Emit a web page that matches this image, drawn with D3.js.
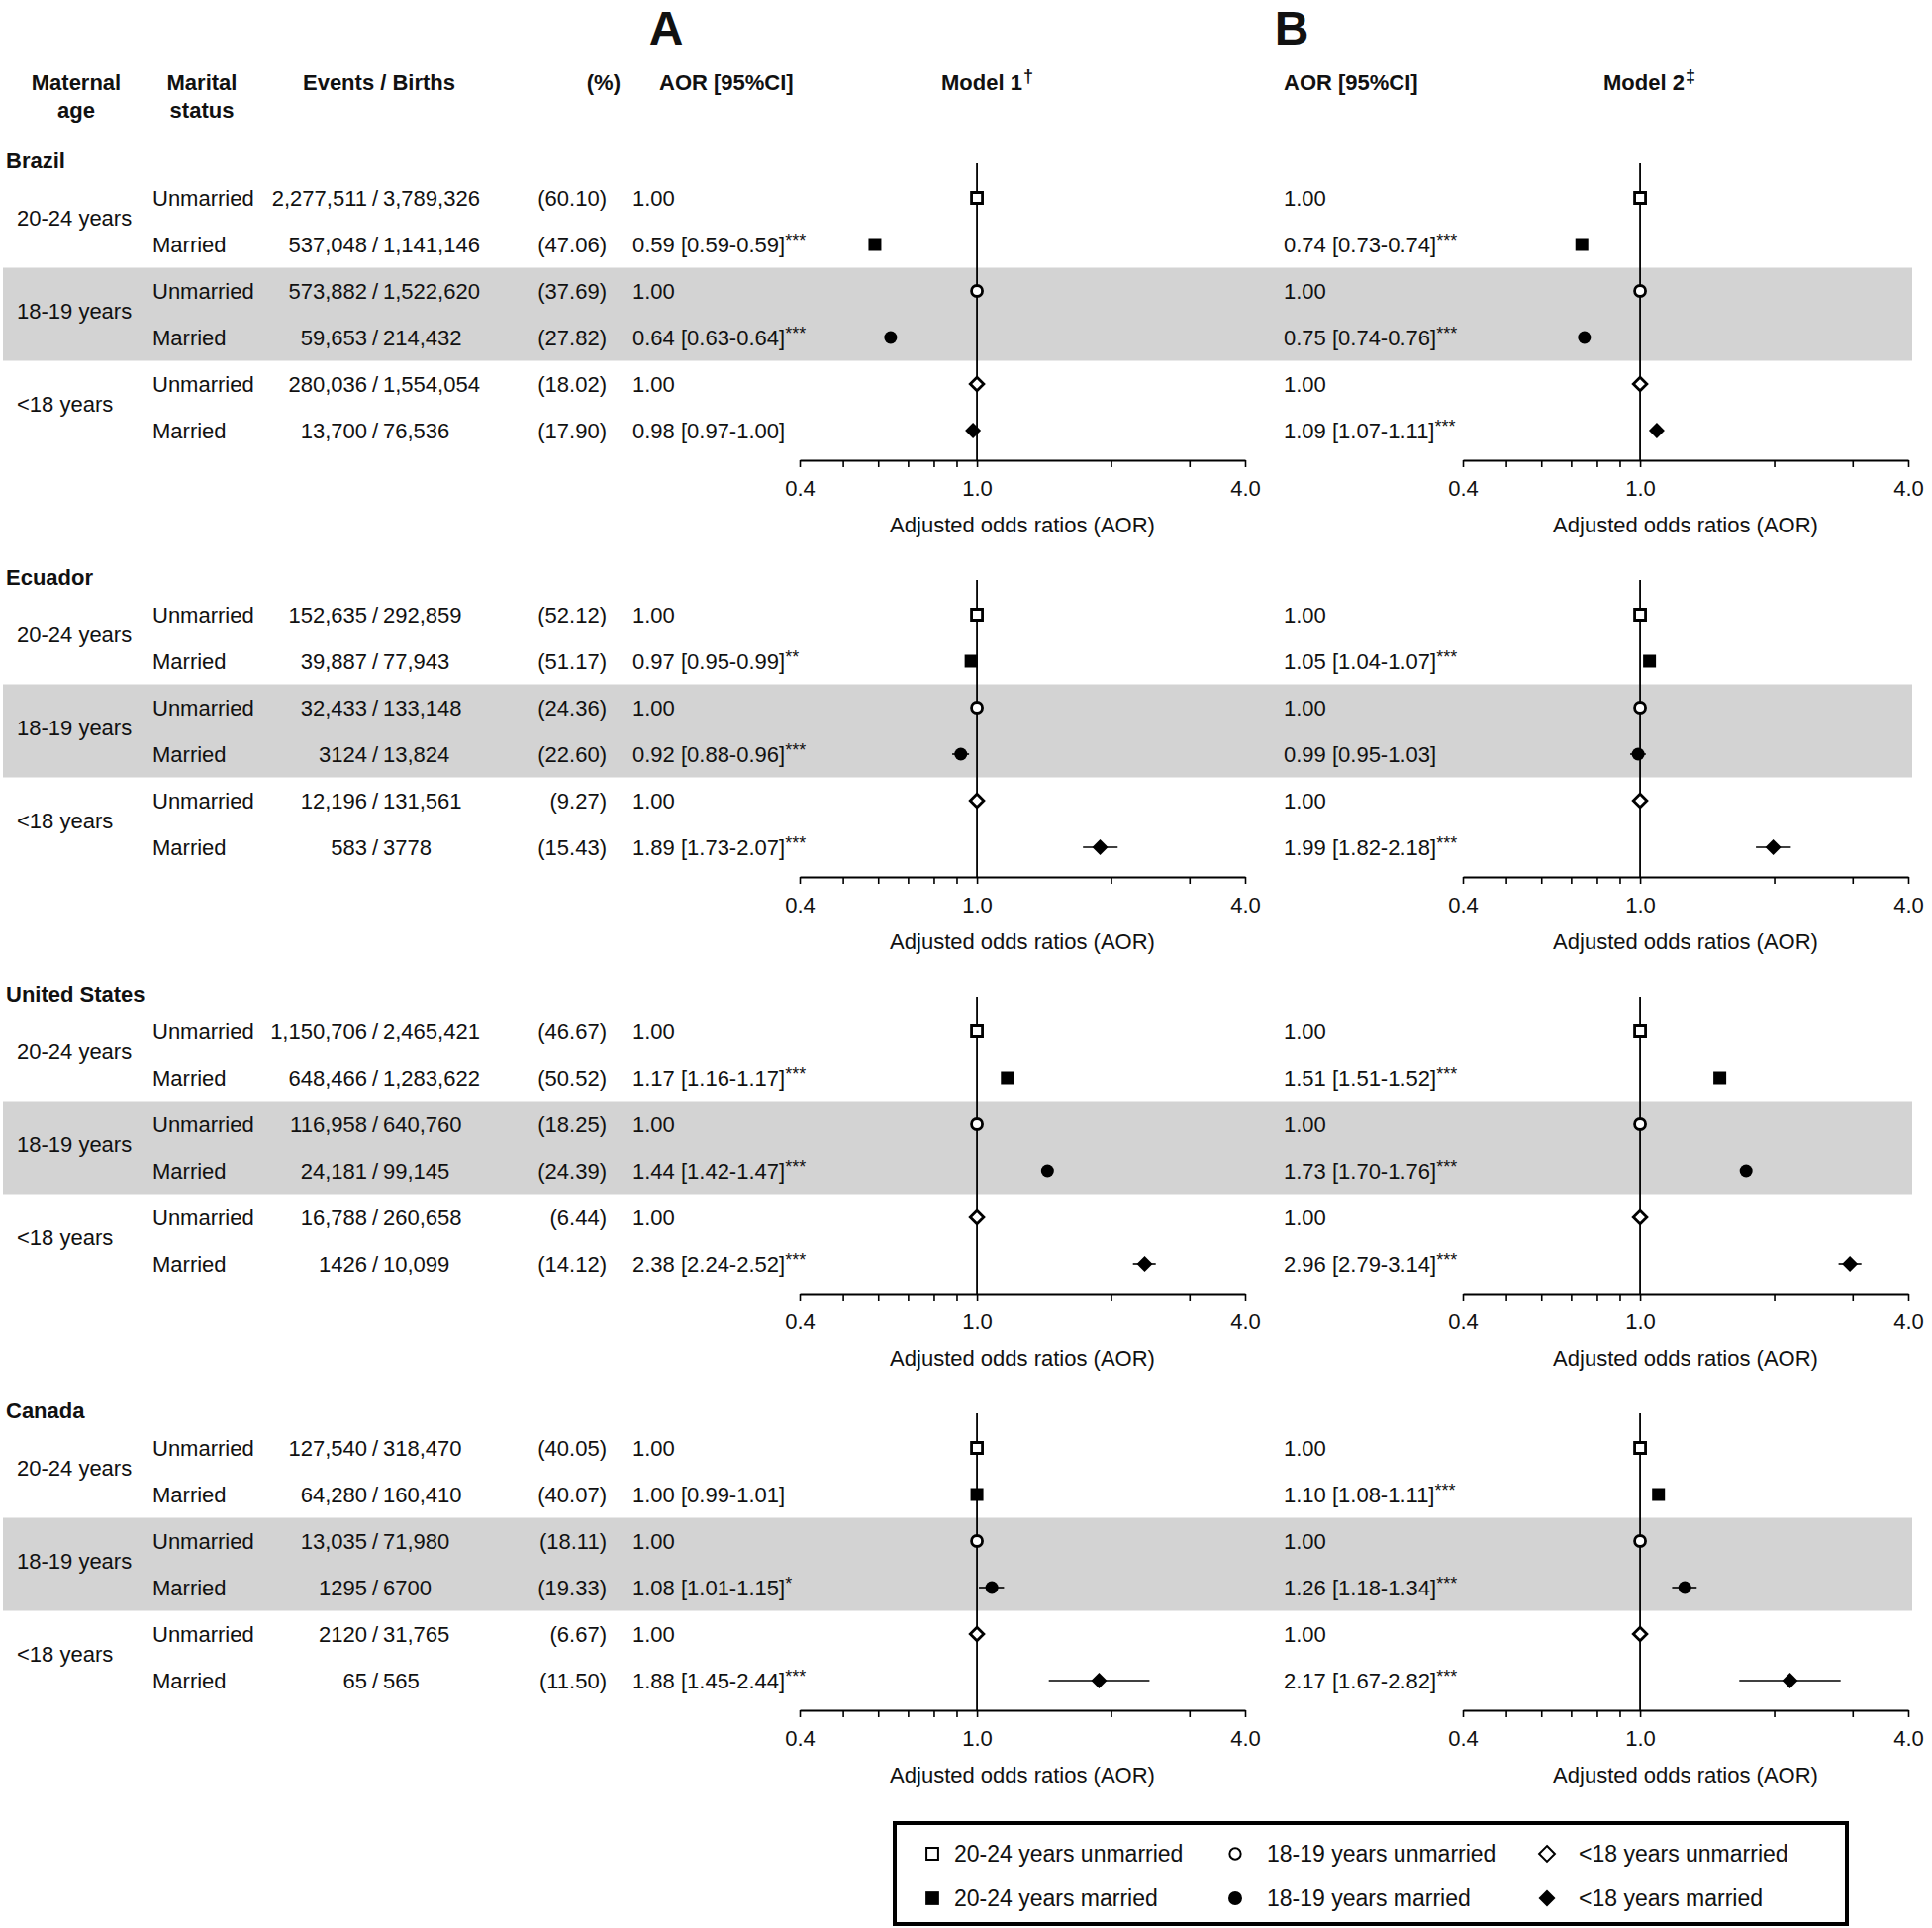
<!DOCTYPE html>
<html>
<head>
<meta charset="utf-8">
<script src="https://cdn.jsdelivr.net/npm/d3@7"></script>
<style>
body { margin: 0; background: #fff; }
text { font-family: "Liberation Sans", Arial, Helvetica, sans-serif; fill: #111; font-size: 22px; }
.bold { font-weight: bold; }
</style>
</head>
<body>
<svg width="1952" height="1948"></svg>
<script>
var svg = d3.select('svg');

// ---- data ----
var countries = ['Brazil', 'Ecuador', 'United States', 'Canada'];
var ageGroups = ['20-24 years', '18-19 years', '<18 years'];
var maritalStatus = ['Unmarried', 'Married'];

// rows per country: 20-24 U, 20-24 M, 18-19 U, 18-19 M, <18 U, <18 M
var events = [
    [2277511, 537048, 573882, 59653, 280036, 13700],
    [152635, 39887, 32433, 3124, 12196, 583],
    [1150706, 648466, 116958, 24181, 16788, 1426],
    [127540, 64280, 13035, 1295, 2120, 65]
];
var births = [
    [3789326, 1141146, 1522620, 214432, 1554054, 76536],
    [292859, 77943, 133148, 13824, 131561, 3778],
    [2465421, 1283622, 640760, 99145, 260658, 10099],
    [318470, 160410, 71980, 6700, 31765, 565]
];
var percents = [
    [60.10, 47.06, 37.69, 27.82, 18.02, 17.90],
    [52.12, 51.17, 24.36, 22.60, 9.27, 15.43],
    [46.67, 50.52, 18.25, 24.39, 6.44, 14.12],
    [40.05, 40.07, 18.11, 19.33, 6.67, 11.50]
];

// married rows only (unmarried = reference 1.00), per country per age group
var aor1 = [[0.59, 0.64, 0.98], [0.97, 0.92, 1.89], [1.17, 1.44, 2.38], [1.00, 1.08, 1.88]];
var lo1  = [[0.59, 0.63, 0.97], [0.95, 0.88, 1.73], [1.16, 1.42, 2.24], [0.99, 1.01, 1.45]];
var hi1  = [[0.59, 0.64, 1.00], [0.99, 0.96, 2.07], [1.17, 1.47, 2.52], [1.01, 1.15, 2.44]];
var sig1 = [['***', '***', ''], ['**', '***', '***'], ['***', '***', '***'], ['', '*', '***']];

var aor2 = [[0.74, 0.75, 1.09], [1.05, 0.99, 1.99], [1.51, 1.73, 2.96], [1.10, 1.26, 2.17]];
var lo2  = [[0.73, 0.74, 1.07], [1.04, 0.95, 1.82], [1.51, 1.70, 2.79], [1.08, 1.18, 1.67]];
var hi2  = [[0.74, 0.76, 1.11], [1.07, 1.03, 2.18], [1.52, 1.76, 3.14], [1.11, 1.34, 2.82]];
var sig2 = [['***', '***', '***'], ['***', '', '***'], ['***', '***', '***'], ['***', '***', '***']];

var tickValues = [0.4, 0.5, 0.6, 0.7, 0.8, 0.9, 1.0, 2.0, 3.0, 4.0];
var tickLabels = [0.4, 1.0, 4.0];

// ---- layout ----
var rowGap = 47;
function rowY(c, r) { return 200 + 421 * c + rowGap * r; }

var xA = d3.scaleLog().domain([0.4, 4]).range([808, 1258]);
var xB = d3.scaleLog().domain([0.4, 4]).range([1478, 1928]);

var fmtN = function (n) { return n >= 10000 ? d3.format(',')(n) : String(n); };
var fmt2 = d3.format('.2f');

// flat table of rows
var rows = [];
countries.forEach(function (cn, c) {
    for (var r = 0; r < 6; r++) {
        var a = Math.floor(r / 2), m = r % 2;
        rows.push({
            c: c, r: r, age: a, married: m,
            y: rowY(c, r),
            events: events[c][r], births: births[c][r], pct: percents[c][r],
            m1: m ? {aor: aor1[c][a], lo: lo1[c][a], hi: hi1[c][a], sig: sig1[c][a]} : {aor: 1, lo: 1, hi: 1, sig: ''},
            m2: m ? {aor: aor2[c][a], lo: lo2[c][a], hi: hi2[c][a], sig: sig2[c][a]} : {aor: 1, lo: 1, hi: 1, sig: ''}
        });
    }
});

// ---- grey bands (18-19 years) ----
svg.selectAll('rect.band')
    .data(countries)
    .enter()
    .append('rect')
    .attr('class', 'band')
    .attr('x', 3)
    .attr('width', 1929)
    .attr('y', function (d, c) { return rowY(c, 2) - 23.5; })
    .attr('height', rowGap + 47)
    .attr('fill', '#d3d3d3');

// ---- panel letters and headers ----
svg.append('text').attr('class', 'bold').attr('x', 673).attr('y', 28).attr('dy', '0.35em')
    .attr('text-anchor', 'middle').style('font-size', '48px').text('A');
svg.append('text').attr('class', 'bold').attr('x', 1305).attr('y', 28).attr('dy', '0.35em')
    .attr('text-anchor', 'middle').style('font-size', '48px').text('B');

var headers = [
    {t: 'Maternal', x: 77, y: 83, a: 'middle'},
    {t: 'age', x: 77, y: 111, a: 'middle'},
    {t: 'Marital', x: 204, y: 83, a: 'middle'},
    {t: 'status', x: 204, y: 111, a: 'middle'},
    {t: 'Events / Births', x: 383, y: 83, a: 'middle'},
    {t: '(%)', x: 627, y: 83, a: 'end'},
    {t: 'AOR [95%CI]', x: 666, y: 83, a: 'start'},
    {t: 'AOR [95%CI]', x: 1297, y: 83, a: 'start'}
];
svg.selectAll('text.hdr')
    .data(headers)
    .enter()
    .append('text')
    .attr('class', 'hdr bold')
    .attr('x', function (d) { return d.x; })
    .attr('y', function (d) { return d.y; })
    .attr('dy', '0.35em')
    .attr('text-anchor', function (d) { return d.a; })
    .text(function (d) { return d.t; });

[['Model 1', '\u2020', 951], ['Model 2', '\u2021', 1620]].forEach(function (m) {
    var t = svg.append('text').attr('class', 'bold').attr('x', m[2]).attr('y', 83).attr('dy', '0.35em');
    t.append('tspan').text(m[0]);
    t.append('tspan').attr('dy', -8).attr('dx', 1).style('font-size', '18px').text(m[1]);
});

// ---- country titles ----
svg.selectAll('text.country')
    .data(countries)
    .enter()
    .append('text')
    .attr('class', 'country bold')
    .attr('x', 6)
    .attr('y', function (d, c) { return rowY(c, 0) - 38; })
    .attr('dy', '0.35em')
    .text(function (d) { return d; });

// ---- age labels ----
var ageRows = [];
countries.forEach(function (cn, c) {
    ageGroups.forEach(function (g, a) { ageRows.push({c: c, a: a, label: g}); });
});
svg.selectAll('text.age')
    .data(ageRows)
    .enter()
    .append('text')
    .attr('class', 'age')
    .attr('x', 17)
    .attr('y', function (d) { return (rowY(d.c, d.a * 2) + rowY(d.c, d.a * 2 + 1)) / 2 - 3; })
    .attr('dy', '0.35em')
    .text(function (d) { return d.label; });

// ---- table rows ----
var rowG = svg.selectAll('g.row')
    .data(rows)
    .enter()
    .append('g')
    .attr('class', 'row')
    .attr('transform', function (d) { return 'translate(0,' + d.y + ')'; });

rowG.append('text').attr('x', 154).attr('dy', '0.35em')
    .text(function (d) { return maritalStatus[d.married]; });
rowG.append('text').attr('x', 371).attr('dy', '0.35em').attr('text-anchor', 'end')
    .text(function (d) { return fmtN(d.events); });
rowG.append('text').attr('x', 379).attr('dy', '0.35em').attr('text-anchor', 'middle').text('/');
rowG.append('text').attr('x', 387).attr('dy', '0.35em')
    .text(function (d) { return fmtN(d.births); });
rowG.append('text').attr('x', 613).attr('dy', '0.35em').attr('text-anchor', 'end')
    .text(function (d) { return '(' + fmt2(d.pct) + ')'; });

function aorText(sel, key, x) {
    var t = sel.append('text').attr('x', x).attr('dy', '0.35em');
    t.append('tspan').text(function (d) {
        var m = d[key];
        return d.married ? fmt2(m.aor) + ' [' + fmt2(m.lo) + '-' + fmt2(m.hi) + ']' : '1.00';
    });
    t.append('tspan').attr('dy', -6).style('font-size', '18px')
        .text(function (d) { return d[key].sig; });
}
aorText(rowG, 'm1', 639);
aorText(rowG, 'm2', 1297);

// ---- forest plots ----
var shapes = [d3.symbolSquare, d3.symbolCircle, d3.symbolDiamond2];
var hollowSize = [121, 95, 118];
var filledSize = [169, 133, 163];

function panel(x, key) {
    countries.forEach(function (cn, c) {
        var axisY = rowY(c, 0) + 265;
        svg.append('line')
            .attr('x1', x(1)).attr('x2', x(1))
            .attr('y1', rowY(c, 0) - 35).attr('y2', axisY)
            .attr('stroke', '#000').attr('stroke-width', 1.8);

        var ax = svg.append('g')
            .attr('transform', 'translate(0,' + axisY + ')')
            .call(d3.axisBottom(x).tickValues(tickValues).tickSize(7).tickSizeOuter(0)
                .tickFormat(function (v) { return tickLabels.indexOf(v) >= 0 ? d3.format('.1f')(v) : ''; }));
        ax.select('.domain').attr('stroke-width', 2.2).attr('stroke', '#000');
        ax.selectAll('.tick line').attr('stroke-width', 1.6).attr('stroke', '#000');
        ax.selectAll('.tick text').attr('y', 28).attr('dy', '0.35em')
            .style('font-size', '22px').style('font-family', '"Liberation Sans", Arial, sans-serif').attr('fill', '#111');

        svg.append('text')
            .attr('x', (x.range()[0] + x.range()[1]) / 2)
            .attr('y', axisY + 65).attr('dy', '0.35em')
            .attr('text-anchor', 'middle')
            .text('Adjusted odds ratios (AOR)');
    });

    svg.selectAll('line.ci-' + key)
        .data(rows.filter(function (d) { return d.married; }))
        .enter()
        .append('line')
        .attr('class', 'ci-' + key)
        .attr('x1', function (d) { return x(d[key].lo); })
        .attr('x2', function (d) { return x(d[key].hi); })
        .attr('y1', function (d) { return d.y; })
        .attr('y2', function (d) { return d.y; })
        .attr('stroke', '#000')
        .attr('stroke-width', 1.6);

    svg.selectAll('path.pt-' + key)
        .data(rows)
        .enter()
        .append('path')
        .attr('class', 'pt-' + key)
        .attr('transform', function (d) { return 'translate(' + x(d[key].aor) + ',' + d.y + ')'; })
        .attr('d', function (d) {
            return d3.symbol().type(shapes[d.age]).size(d.married ? filledSize[d.age] : hollowSize[d.age])();
        })
        .attr('fill', function (d) { return d.married ? '#000' : '#fff'; })
        .attr('stroke', '#000')
        .attr('stroke-width', function (d) { return d.married ? 0 : 2.8; });
}
panel(xA, 'm1');
panel(xB, 'm2');

// ---- legend ----
svg.append('rect')
    .attr('x', 904).attr('y', 1842).attr('width', 962).attr('height', 102)
    .attr('fill', 'none').attr('stroke', '#000').attr('stroke-width', 4);

var legendItems = [];
ageGroups.forEach(function (g, a) {
    maritalStatus.forEach(function (s, m) {
        legendItems.push({age: a, married: m, label: g + ' ' + s.toLowerCase()});
    });
});
var legX = [942, 1248, 1563];
var legG = svg.selectAll('g.leg')
    .data(legendItems)
    .enter()
    .append('g')
    .attr('class', 'leg')
    .attr('transform', function (d) { return 'translate(' + legX[d.age] + ',' + (1873 + d.married * 45) + ')'; });
legG.append('path')
    .attr('d', function (d) {
        return d3.symbol().type(shapes[d.age]).size(d.married ? filledSize[d.age] + 20 : [140, 100, 160][d.age])();
    })
    .attr('fill', function (d) { return d.married ? '#000' : '#fff'; })
    .attr('stroke', '#000')
    .attr('stroke-width', function (d) { return d.married ? 0 : 2; });
legG.append('text')
    .attr('x', function (d) { return d.age === 0 ? 22 : 32; })
    .attr('dy', '0.35em')
    .style('font-size', '23px')
    .text(function (d) { return d.label; });
</script>
</body>
</html>
